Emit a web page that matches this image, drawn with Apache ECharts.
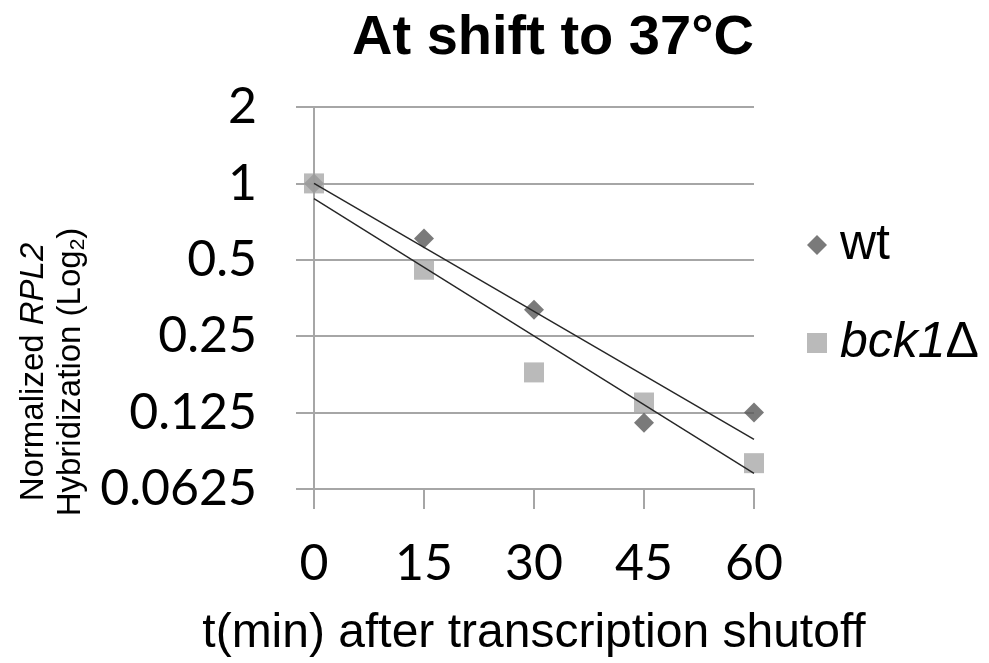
<!DOCTYPE html>
<html><head><meta charset="utf-8">
<script src="https://cdn.jsdelivr.net/npm/echarts@6/dist/echarts.min.js"></script>
<style>html,body{margin:0;padding:0;background:#fff}#c{width:989px;height:663px}</style>
</head><body><div id="c"></div>
<script>
var xTicks = [0, 15, 30, 45, 60];
var yTickLabels = ['0.0625', '0.125', '0.25', '0.5', '1', '2'];
var wtValues = [1.0, 0.607, 0.318, 0.114, 0.125];
var bckValues = [1.0, 0.457, 0.18, 0.137, 0.079];
var wtTrend = [1.0, 0.098];
var bckTrend = [0.871, 0.072];
var trendX = [0, 60];

function pairs(xs, ys){ return xs.map(function(x,i){ return [x, ys[i]]; }); }

var chart = echarts.init(document.getElementById('c'));
chart.setOption({
  animation: false,
  backgroundColor: '#fff',
  title: {
    text: 'At shift to 37°C',
    left: 548, top: 6, textAlign: 'center',
    textStyle: {fontFamily: 'Liberation Sans', fontWeight: 'bold', fontSize: 56, color: '#000'}
  },
  grid: {left: 314, right: 235, top: 107, bottom: 172, containLabel: false},
  legend: {
    orient: 'vertical', left: 807, top: 220, padding: 0,
    itemWidth: 20, itemHeight: 20, itemGap: 48,
    data: [{name: 'wt', icon: 'diamond'}, {name: 'bck1Δ', icon: 'rect'}],
    formatter: function(n){ return n === 'bck1Δ' ? '{it|bck1}Δ' : n; },
    textStyle: {fontFamily: 'Liberation Sans', fontSize: 50, color: '#000', padding: [0, 0, 0, 8],
      rich: {it: {fontStyle: 'italic', fontFamily: 'Liberation Sans', fontSize: 50, color: '#000'}}}
  },
  xAxis: {
    type: 'value', min: 0, max: 60, interval: 15,
    name: 't(min) after transcription shutoff', nameLocation: 'middle', nameGap: 121,
    nameTextStyle: {fontFamily: 'Liberation Sans', fontSize: 48, color: '#000'},
    axisLine: {lineStyle: {color: '#a6a6a6', width: 2}},
    axisTick: {length: 20, lineStyle: {color: '#a6a6a6', width: 2}},
    splitLine: {show: false},
    axisLabel: {margin: 50, fontFamily: 'Lato', fontSize: 50, color: '#000',
      formatter: function(v){ var i = xTicks.indexOf(v); return i >= 0 ? String(xTicks[i]) : ''; }}
  },
  yAxis: {
    type: 'log', logBase: 2, min: 0.0625, max: 2,
    axisLine: {show: true, lineStyle: {color: '#a6a6a6', width: 2}},
    axisTick: {show: true, length: 18, lineStyle: {color: '#a6a6a6', width: 2}},
    splitLine: {show: true, lineStyle: {color: '#a6a6a6', width: 2}},
    axisLabel: {margin: 57, fontFamily: 'Lato', fontSize: 50, color: '#000',
      formatter: function(v){ var i = Math.round(Math.log2(v)) + 4; return yTickLabels[i] || ''; }}
  },
  graphic: [{
    type: 'text', x: 52, y: 372, rotation: Math.PI / 2,
    style: {
      text: 'Normalized {i|RPL2}\nHybridization (Log{s|2})',
      align: 'center', verticalAlign: 'middle',
      font: '33px "Liberation Sans"', fill: '#000', lineHeight: 37,
      rich: {
        i: {fontStyle: 'italic', fontFamily: 'Liberation Sans', fontSize: 33, fill: '#000'},
        s: {fontFamily: 'Liberation Sans', fontSize: 21, fill: '#000', verticalAlign: 'bottom', padding: [14, 0, 0, 0]}
      }
    }
  }],
  series: [
    {name: 'wt', type: 'scatter', symbol: 'diamond', symbolSize: 20, z: 2,
      itemStyle: {color: '#595959'}, data: pairs(xTicks, wtValues)},
    {name: 'bck1Δ', type: 'scatter', symbol: 'rect', symbolSize: 20, z: 3,
      itemStyle: {color: '#a9a9a9'}, data: pairs(xTicks, bckValues)},
    {name: 'wt trend', type: 'line', symbol: 'none', z: 5,
      lineStyle: {color: '#262626', width: 1.4}, data: pairs(trendX, wtTrend)},
    {name: 'bck1 trend', type: 'line', symbol: 'none', z: 5,
      lineStyle: {color: '#262626', width: 1.4}, data: pairs(trendX, bckTrend)}
  ]
});
</script>
</body></html>
